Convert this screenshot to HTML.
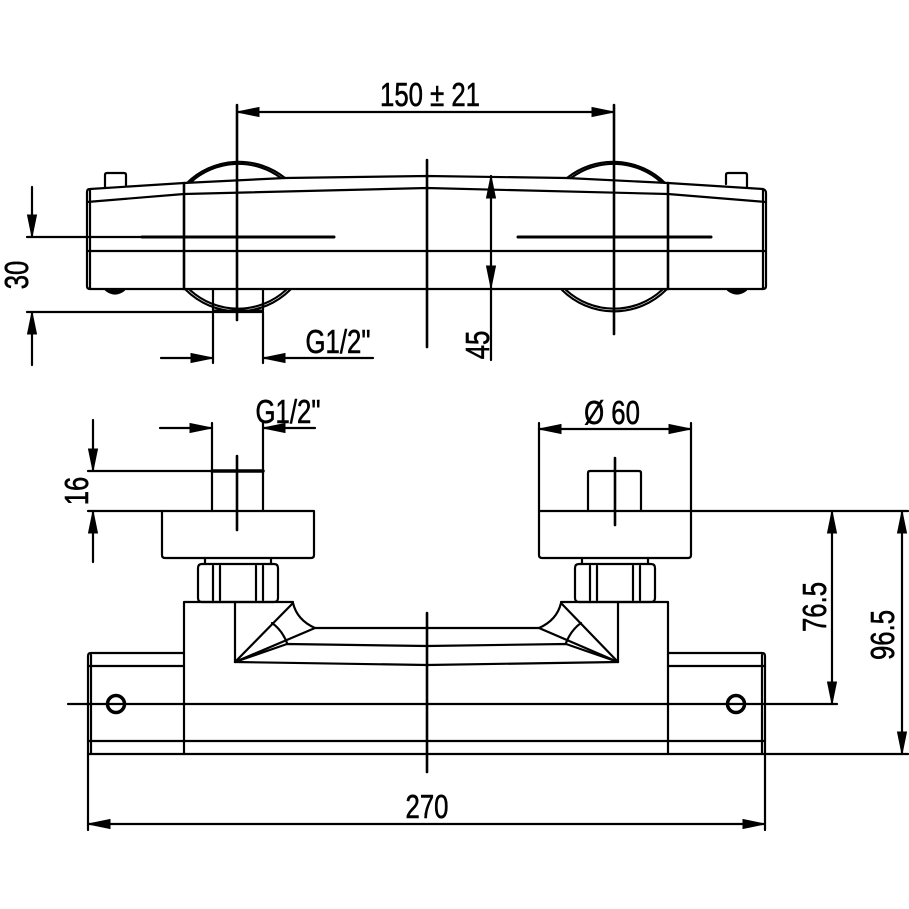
<!DOCTYPE html>
<html><head><meta charset="utf-8"><style>
html,body{margin:0;padding:0;background:#fff;}
svg{display:block}
text{font-family:"Liberation Sans",sans-serif;font-size:33px;fill:#000;stroke:#000;stroke-width:0.6;}
</style></head><body>
<svg width="909" height="909" viewBox="0 0 909 909" xmlns="http://www.w3.org/2000/svg">
<g stroke="#000" stroke-width="2.2" fill="none" stroke-linecap="round" stroke-linejoin="round">
<path d="M187,183 A74,74 0 0 1 285,178"/>
<path d="M191,182 A71,71 0 0 1 281,178"/>
<path d="M186,290 A74,74 0 0 0 290,290"/>
<path d="M190,290 A71,71 0 0 0 286,290"/>
<path d="M567,178 A74,74 0 0 1 665,183"/>
<path d="M571,178 A71,71 0 0 1 661,182"/>
<path d="M562,290 A74,74 0 0 0 666,290"/>
<path d="M566,290 A71,71 0 0 0 662,290"/>
<path d="M90,189 L184,183 L285,178 L427,176 L567,178 L668,183 L763,189 Q766,190 766,193 L766,286 Q766,289 763,289 L90,289 Q87,289 87,286 L87,192 Q87,189 90,189 Z"/>
<path d="M87,202 L184,194 L427,188 L668,194 L766,202"/>
<line x1="87" y1="251" x2="766" y2="251"/>
<line x1="184" y1="183" x2="184" y2="289" stroke-width="2.6"/>
<line x1="668" y1="183" x2="668" y2="289" stroke-width="2.6"/>
<line x1="90" y1="190" x2="90" y2="288"/>
<line x1="763" y1="190" x2="763" y2="288"/>
<path d="M105,187 L105,175 Q105,173 107,173 L124,173 Q126,173 126,175 L126,186"/>
<path d="M726,184 L726,175 Q726,173 728,173 L745,173 Q747,173 747,175 L747,187"/>
<path d="M106,290 Q115,297 124,290" fill="#000"/>
<path d="M728,290 Q737,297 746,290" fill="#000"/>
<path d="M213,289 L213,310 Q213,312 215,312 L261,312 Q263,312 263,310 L263,289"/>
<line x1="214" y1="311" x2="262" y2="311" stroke-width="3"/>
<line x1="142" y1="237" x2="334" y2="237" stroke-width="3"/>
<line x1="518" y1="237" x2="711" y2="237" stroke-width="3"/>
<line x1="427" y1="160" x2="427" y2="347" stroke-width="2.6"/>
<line x1="237" y1="105" x2="237" y2="320" stroke-width="2.6"/>
<line x1="614" y1="105" x2="614" y2="334" stroke-width="2.6"/>
<line x1="237" y1="112" x2="614" y2="112"/>
<line x1="27" y1="237" x2="142" y2="237"/>
<line x1="27" y1="312" x2="213" y2="312"/>
<line x1="32" y1="187" x2="32" y2="237"/>
<line x1="32" y1="365" x2="32" y2="312"/>
<line x1="491" y1="176" x2="491" y2="360"/>
<line x1="161" y1="358" x2="213" y2="358"/>
<line x1="373" y1="358" x2="263" y2="358"/>
<line x1="213" y1="312" x2="213" y2="363"/>
<line x1="263" y1="312" x2="263" y2="363"/>

<line x1="160" y1="428" x2="212" y2="428"/>
<line x1="315" y1="428" x2="263" y2="428"/>
<line x1="212" y1="423" x2="212" y2="511"/>
<line x1="263" y1="423" x2="263" y2="511"/>
<line x1="88" y1="471" x2="263" y2="471"/>
<line x1="212" y1="471" x2="263" y2="471" stroke-width="3.5"/>
<line x1="88" y1="511" x2="162" y2="511"/>
<line x1="93" y1="420" x2="93" y2="471"/>
<line x1="93" y1="562" x2="93" y2="511"/>
<line x1="237" y1="456" x2="237" y2="530" stroke-width="2.6"/>
<path d="M162,511 L314,511 L314,555 Q314,558 311,558 L165,558 Q162,558 162,555 Z"/>
<path d="M205,558 L205,564 M271,558 L271,564"/>
<path d="M202,564 L274,564 Q278,564 278,568 L278,598 Q278,602 274,602 L202,602 Q198,602 198,598 L198,568 Q198,564 202,564 Z"/>
<path d="M213,566 L213,600 M220,566 L220,600 M256,566 L256,600 M263,566 L263,600"/>
<line x1="539" y1="429" x2="691" y2="429"/>
<line x1="539" y1="423" x2="539" y2="511"/>
<line x1="691" y1="423" x2="691" y2="511"/>
<path d="M539,511 L691,511 L691,555 Q691,558 688,558 L542,558 Q539,558 539,555 Z"/>
<path d="M588,511 L588,473 Q588,471 590,471 L639,471 Q641,471 641,473 L641,511"/>
<line x1="615" y1="458" x2="615" y2="525" stroke-width="2.6"/>
<path d="M582,558 L582,564 M648,558 L648,564"/>
<path d="M579,564 L651,564 Q655,564 655,568 L655,598 Q655,602 651,602 L579,602 Q575,602 575,598 L575,568 Q575,564 579,564 Z"/>
<path d="M590,566 L590,600 M597,566 L597,600 M633,566 L633,600 M640,566 L640,600"/>
<path d="M184,754 L184,602 L293,602"/>
<path d="M668,754 L668,602 L561,602"/>
<path d="M235,602 L235,662 L427,665 L618,662 L618,602"/>
<path d="M235,662 L293,603 Q297,620 315,628 L427,628 L539,628 Q557,620 561,603 L618,662"/>
<path d="M235,662 L315,628 M618,662 L539,628"/>
<path d="M235,662 L287,644 L427,646 L566,644 L618,662"/>
<path d="M272,623 Q282,630 287,643 M581,623 Q571,630 566,643"/>
<path d="M184,653 L91,653 Q88,653 88,656 L88,754 L765,754 L765,656 Q765,653 762,653 L668,653"/>
<line x1="88" y1="666" x2="184" y2="666"/>
<line x1="668" y1="666" x2="765" y2="666"/>
<line x1="88" y1="741" x2="765" y2="741"/>
<line x1="91" y1="655" x2="91" y2="754"/>
<line x1="762" y1="655" x2="762" y2="754"/>
<circle cx="116" cy="704" r="8.5" stroke-width="3.5"/>
<circle cx="736" cy="704" r="8.5" stroke-width="3.5"/>
<line x1="68" y1="704" x2="837" y2="704"/>
<line x1="427" y1="613" x2="427" y2="772" stroke-width="2.6"/>
<line x1="88" y1="754" x2="88" y2="830"/>
<line x1="765" y1="754" x2="765" y2="830"/>
<line x1="88" y1="824" x2="765" y2="824"/>
<line x1="691" y1="511" x2="908" y2="511"/>
<line x1="765" y1="754" x2="908" y2="754"/>
<line x1="832" y1="511" x2="832" y2="704"/>
<line x1="902" y1="511" x2="902" y2="754"/>
</g>
<g fill="#000" stroke="#000" stroke-width="1">
<polygon points="237,112 259,107.5 259,116.5"/>
<polygon points="614,112 592,107.5 592,116.5"/>
<polygon points="32,237 27.5,215 36.5,215"/>
<polygon points="32,312 27.5,334 36.5,334"/>
<polygon points="491,176 486.5,198 495.5,198"/>
<polygon points="491,288 486.5,266 495.5,266"/>
<polygon points="213,358 191,353.5 191,362.5"/>
<polygon points="263,358 285,353.5 285,362.5"/>
<polygon points="212,428 190,423.5 190,432.5"/>
<polygon points="263,428 285,423.5 285,432.5"/>
<polygon points="93,471 88.5,449 97.5,449"/>
<polygon points="93,511 88.5,533 97.5,533"/>
<polygon points="539,429 561,424.5 561,433.5"/>
<polygon points="691,429 669,424.5 669,433.5"/>
<polygon points="88,824 110,819.5 110,828.5"/>
<polygon points="765,824 743,819.5 743,828.5"/>
<polygon points="832,511 827.5,533 836.5,533"/>
<polygon points="832,704 827.5,682 836.5,682"/>
<polygon points="902,511 897.5,533 906.5,533"/>
<polygon points="902,754 897.5,732 906.5,732"/>
</g>
<g>
<text transform="translate(430,106) scale(0.78,1)" text-anchor="middle">150 ±  21</text>
<text transform="translate(28,275) rotate(-90) scale(0.78,1)" text-anchor="middle">30</text>
<text transform="translate(489,345) rotate(-90) scale(0.78,1)" text-anchor="middle">45</text>
<text transform="translate(338,353) scale(0.78,1)" text-anchor="middle">G1/2"</text>
<text transform="translate(288,423) scale(0.78,1)" text-anchor="middle">G1/2"</text>
<text transform="translate(88,491) rotate(-90) scale(0.78,1)" text-anchor="middle">16</text>
<text transform="translate(612,424) scale(0.78,1)" text-anchor="middle">Ø 60</text>
<text transform="translate(427,818) scale(0.78,1)" text-anchor="middle">270</text>
<text transform="translate(826,607) rotate(-90) scale(0.78,1)" text-anchor="middle">76.5</text>
<text transform="translate(894,635) rotate(-90) scale(0.78,1)" text-anchor="middle">96.5</text>
</g>
</svg>
</body></html>
